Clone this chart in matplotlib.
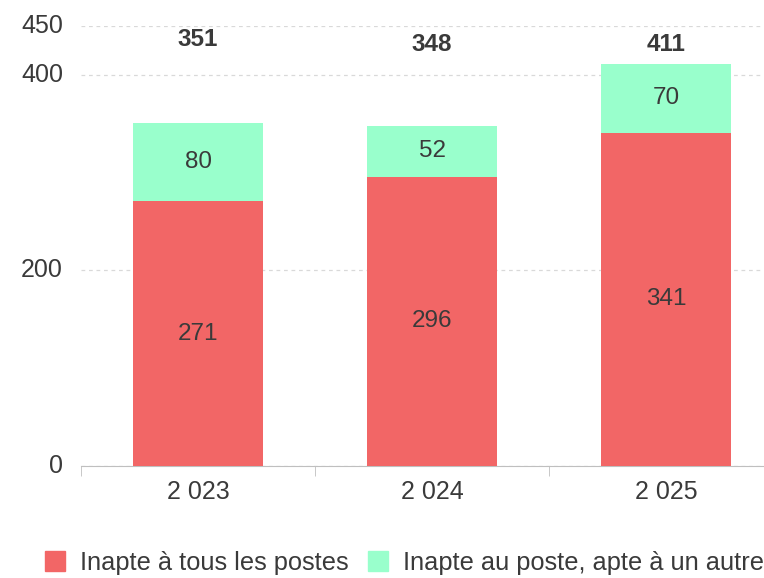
import numpy as np
import matplotlib.pyplot as plt
from matplotlib.patches import Patch

years = ["2 023", "2 024", "2 025"]
inapte_tous = [271, 296, 341]
inapte_poste = [80, 52, 70]
totals = [351, 348, 411]

plt.rcParams['font.family'] = ['Liberation Sans', 'DejaVu Sans']

red = '#F26666'
green = '#99FFCC'
txt = '#3a3a3a'

fig = plt.figure(figsize=(7.64, 5.78), dpi=100)
ax = fig.add_axes([81/764, 112/578, 1 - 81/764, 440/578])

x = np.arange(len(years))
w = 0.555
ax.bar(x, inapte_tous, w, color=red, zorder=3)
ax.bar(x, inapte_poste, w, bottom=inapte_tous, color=green, zorder=3)

for i in range(len(years)):
    ax.text(x[i], inapte_tous[i] / 2, str(inapte_tous[i]), ha='center', va='center',
            fontsize=17.5, color=txt, zorder=4)
    ax.text(x[i], inapte_tous[i] + inapte_poste[i] / 2, str(inapte_poste[i]),
            ha='center', va='center', fontsize=17.5, color=txt, zorder=4)

# totaux en haut
tot_y = [436, 431, 431]
for i in range(len(years)):
    ax.text(x[i], tot_y[i], str(totals[i]), ha='center', va='center',
            fontsize=17.5, fontweight='bold', color=txt, zorder=4)

ax.set_yticks([0, 200, 400, 450])
ax.set_xticks(x)
ax.set_xticklabels(years)
ax.set_xticks([-0.5, 0.5, 1.5, 2.5], minor=True)
ax.set_xlim(-0.5, (764 - 198) / 234)
ax.set_ylim(0, 450)

ax.yaxis.grid(True, linestyle=(0, (3, 3)), color='#d9d9d9', linewidth=0.9, zorder=0)
for s in ['top', 'right', 'left']:
    ax.spines[s].set_visible(False)
ax.spines['bottom'].set_color('#bfbfbf')
ax.tick_params(axis='y', length=0, pad=13, labelsize=18, labelcolor=txt)
ax.tick_params(axis='x', which='major', length=0, pad=10, labelsize=18, labelcolor=txt)
ax.tick_params(axis='x', which='minor', length=7, color='#bfbfbf')
for lbl in ax.get_yticklabels():
    lbl.set_verticalalignment('center')

handles = [Patch(color=red, label='Inapte à tous les postes'),
           Patch(color=green, label='Inapte au poste, apte à un autre')]
fig.legend(handles=handles, loc='center', bbox_to_anchor=(404.5/764, 15/578),
           ncol=2, frameon=False, fontsize=18.3, handlelength=0.8, handleheight=0.8,
           handletextpad=0.6, columnspacing=0.75, labelcolor=txt)

fig.savefig('out.png', dpi=100)
